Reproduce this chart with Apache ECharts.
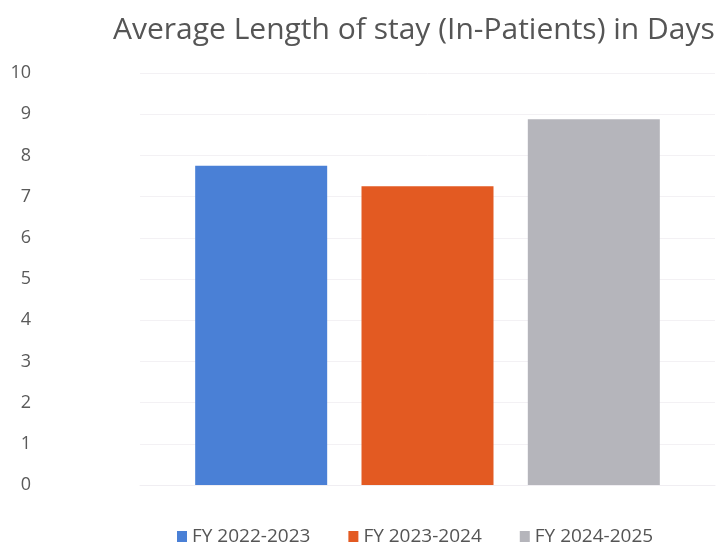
<!DOCTYPE html>
<html>
<head>
<meta charset="utf-8">
<script src="https://cdn.jsdelivr.net/npm/echarts@6/dist/echarts.min.js"></script>
<style>
  html, body { margin: 0; padding: 0; background: #ffffff; }
  #chart { width: 721px; height: 551px; }
</style>
</head>
<body>
<div id="chart"></div>
<script>
// Average length of stay per financial year (days)
const categories = ['Average Length of stay'];
const seriesNames = ['FY 2022-2023', 'FY 2023-2024', 'FY 2024-2025'];
const stayDays = [7.75, 7.25, 8.88];
const seriesColors = ['#4a80d6', '#e35a22', '#b5b5bb'];
const yTicks = { min: 0, max: 10, interval: 1 };

const chart = echarts.init(document.getElementById('chart'));

const series = seriesNames.map((name, i) => ({
  name: name,
  type: 'bar',
  data: [stayDays[i]],
  barWidth: 132,
  barGap: '26%',
  itemStyle: { color: seriesColors[i] }
}));

chart.setOption({
  animation: false,
  title: {
    text: 'Average Length of stay (In-Patients) in Days',
    left: 108,
    top: 10,
    textStyle: {
      fontFamily: 'Open Sans',
      fontSize: 30,
      fontWeight: 'normal',
      color: '#555555'
    }
  },
  legend: {
    data: seriesNames,
    bottom: 0,
    left: 172,
    itemWidth: 10,
    itemHeight: 11,
    itemGap: 38,
    icon: 'rect',
    textStyle: {
      fontFamily: 'Open Sans',
      fontSize: 19,
      color: '#555555'
    }
  },
  grid: {
    left: 140,
    right: 6,
    top: 73,
    bottom: 66
  },
  xAxis: {
    type: 'category',
    data: categories,
    axisLine: { show: true, lineStyle: { color: '#f0eef2' } },
    axisTick: { show: false },
    axisLabel: { show: false }
  },
  yAxis: {
    type: 'value',
    min: yTicks.min,
    max: yTicks.max,
    interval: yTicks.interval,
    axisLine: { show: false },
    axisTick: { show: false },
    splitLine: { lineStyle: { color: '#f3f1f4' } },
    axisLabel: {
      margin: 109,
      fontFamily: 'Open Sans',
      fontSize: 18,
      color: '#5a5a5a'
    }
  },
  series: series
});
</script>
</body>
</html>
